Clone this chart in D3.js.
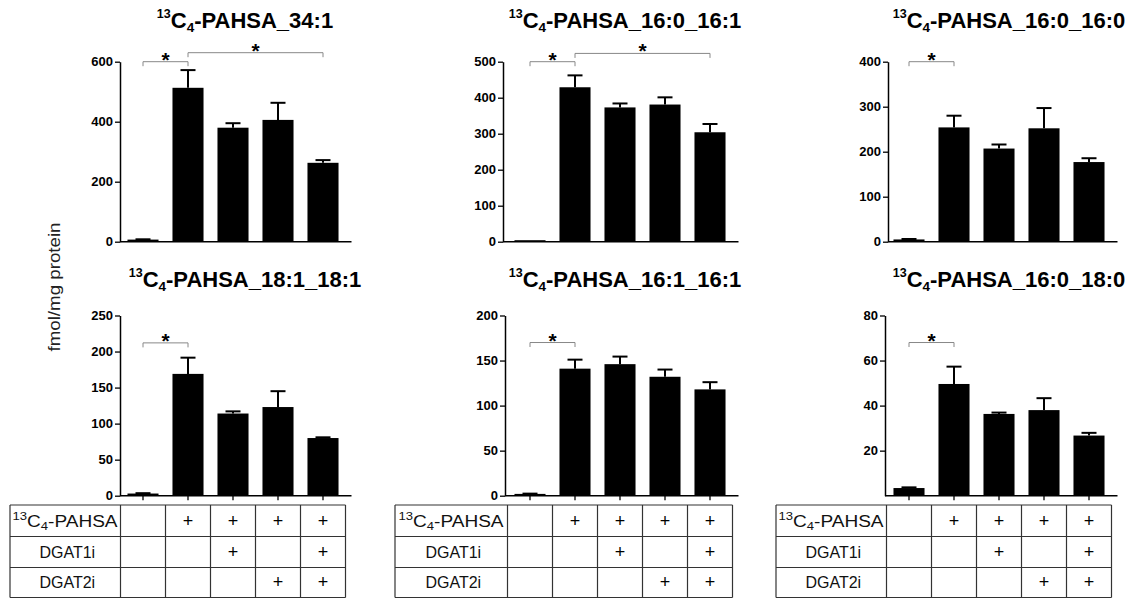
<!DOCTYPE html>
<html>
<head>
<meta charset="utf-8">
<script src="https://cdn.jsdelivr.net/npm/d3@7"></script>
<style>
  body { margin: 0; background: #fff; }
  svg { display: block; font-family: "Liberation Sans", Arial, Helvetica, sans-serif; }
</style>
</head>
<body>
<svg id="chart" width="1135" height="598"></svg>
<script>
// Treatment groups (x categories)
const groups = ["vehicle", "PAHSA", "PAHSA+DGAT1i", "PAHSA+DGAT2i", "PAHSA+DGAT1i+DGAT2i"];

// Lipid species shown in each panel
const species = ["34:1", "16:0_16:1", "16:0_16:0", "18:1_18:1", "16:1_16:1", "16:0_18:0"];

// Mean (fmol/mg protein) and SEM per group
const mean_34_1      = [7, 513, 380, 406, 263];
const sem_34_1       = [1, 59, 15, 57, 9];
const mean_16_0_16_1 = [1.5, 429, 373, 381, 304];
const sem_16_0_16_1  = [0, 33, 11, 20, 23];
const mean_16_0_16_0 = [5, 254, 207, 252, 177];
const sem_16_0_16_0  = [1, 26, 9, 45, 8.5];
const mean_18_1_18_1 = [3, 169, 114, 123, 80];
const sem_18_1_18_1  = [0.5, 22.5, 3, 22, 1];
const mean_16_1_16_1 = [2, 141, 146, 132, 118];
const sem_16_1_16_1  = [0.3, 10, 8.4, 8, 8];
const mean_16_0_18_0 = [3.4, 49.6, 36.3, 38, 26.7];
const sem_16_0_18_0  = [0.3, 7.7, 0.6, 5.3, 1.2];

// Y axis extents and tick labels
const yMax   = [600, 500, 400, 250, 200, 80];
const yTicks = [
  [0, 200, 400, 600],
  [0, 100, 200, 300, 400, 500],
  [0, 100, 200, 300, 400],
  [0, 50, 100, 150, 200, 250],
  [0, 50, 100, 150, 200],
  [20, 40, 60, 80]
];

// Significance brackets: [from group, to group, height in data units]
const brackets = [
  [[0, 1, 600], [1, 4, 630]],
  [[0, 1, 500], [1, 4, 523]],
  [[0, 1, 400]],
  [[0, 1, 212]],
  [[0, 1, 170]],
  [[0, 1, 68]]
];

// Treatment table below each column
const tableRows = ["PAHSA", "DGAT1i", "DGAT2i"];
const tableMarks = [
  [0, 1, 1, 1, 1],
  [0, 0, 1, 0, 1],
  [0, 0, 0, 1, 1]
];

const means = [mean_34_1, mean_16_0_16_1, mean_16_0_16_0, mean_18_1_18_1, mean_16_1_16_1, mean_16_0_18_0];
const sems  = [sem_34_1, sem_16_0_16_1, sem_16_0_16_0, sem_18_1_18_1, sem_16_1_16_1, sem_16_0_18_0];

// Layout
const colBandX = [120.5, 507.5, 886.5];
const colAxisX = [[120, 503, 888], [120, 505, 885]];
const rowY0    = [241.7, 495.7];
const rowYTop  = [61.7, 315.5];
const titleX   = [245, 625, 1009];
const titleY   = [27.7, 286.7];
const tableLeft = [10, 395, 776];
const tableY    = [505, 536.5, 567.5, 597.5];

const svg = d3.select("#chart");

function scaleX(col) {
  const bx = colBandX[col];
  return d3.scaleBand().domain(groups).range([bx, bx + 225])
    .paddingInner(0.31).paddingOuter(0.155);
}

// center a multi-tspan label horizontally on cx
function centerOn(sel, cx) {
  const b = sel.node().getBBox();
  sel.attr("x", cx - b.width / 2);
}

species.forEach((sp, i) => {
  const col = i % 3, row = Math.floor(i / 3);
  const x = scaleX(col);
  const y = d3.scaleLinear().domain([0, yMax[i]]).range([rowY0[row], rowYTop[row]]);
  const axisX = colAxisX[row][col];
  const g = svg.append("g");
  const bw = x.bandwidth();

  // title
  const t = g.append("text")
    .attr("x", 0).attr("y", titleY[row])
    .attr("font-weight", "bold").attr("font-size", 22).attr("fill", "#000");
  t.append("tspan").attr("font-size", 12.5).attr("dy", -9.6).text("13");
  t.append("tspan").attr("dy", 9.6).text("C");
  t.append("tspan").attr("font-size", 13.5).attr("dy", 4).text("4");
  t.append("tspan").attr("dy", -4).text("-PAHSA_" + sp);
  centerOn(t, titleX[col]);

  // y axis
  const ya = g.append("g").attr("transform", `translate(${axisX},0)`)
    .call(d3.axisLeft(y).tickValues(yTicks[i]).tickSize(5).tickSizeOuter(0).tickPadding(2));
  ya.select(".domain").attr("stroke", "#000").attr("stroke-width", 1.5);
  ya.selectAll(".tick line").attr("stroke", "#000").attr("stroke-width", 1.3);
  ya.selectAll(".tick text").attr("font-family", "'Liberation Sans', Arial, sans-serif")
    .attr("font-weight", "bold").attr("font-size", 13).attr("fill", "#000");

  // x axis line
  g.append("line")
    .attr("x1", axisX).attr("x2", colBandX[col] + 231)
    .attr("y1", rowY0[row]).attr("y2", rowY0[row])
    .attr("stroke", "#000").attr("stroke-width", 1.5);

  if (row === 1) {
    const xa = g.append("g").attr("transform", `translate(0,${rowY0[row]})`)
      .call(d3.axisBottom(x).tickSize(4.5).tickFormat(""));
    xa.select(".domain").remove();
    xa.selectAll(".tick line").attr("stroke", "#000").attr("stroke-width", 1.3);
  }

  const data = groups.map((grp, k) => ({ grp, m: means[i][k], s: sems[i][k] }));

  // bars
  g.selectAll("rect.bar").data(data).join("rect")
    .attr("class", "bar")
    .attr("x", d => x(d.grp)).attr("width", bw)
    .attr("y", d => Math.min(y(d.m), rowY0[row] - 1.5))
    .attr("height", d => Math.max(1.5, rowY0[row] - y(d.m)))
    .attr("fill", "#000");

  // error bars (upper)
  const eb = g.selectAll("g.err").data(data.filter(d => d.s > 0)).join("g").attr("class", "err");
  eb.append("line")
    .attr("x1", d => x(d.grp) + bw / 2).attr("x2", d => x(d.grp) + bw / 2)
    .attr("y1", d => y(d.m)).attr("y2", d => y(d.m + d.s))
    .attr("stroke", "#000").attr("stroke-width", 2);
  eb.append("line")
    .attr("x1", d => x(d.grp) + bw / 2 - 7.5).attr("x2", d => x(d.grp) + bw / 2 + 7.5)
    .attr("y1", d => y(d.m + d.s)).attr("y2", d => y(d.m + d.s))
    .attr("stroke", "#000").attr("stroke-width", 2);

  // significance brackets
  brackets[i].forEach(([a, b, h]) => {
    const x1 = x(groups[a]) + bw / 2, x2 = x(groups[b]) + bw / 2, yy = y(h);
    g.append("path")
      .attr("d", `M${x1},${yy + 4.5}V${yy}H${x2}V${yy + 4.5}`)
      .attr("fill", "none").attr("stroke", "#888").attr("stroke-width", 1);
    g.append("text")
      .attr("x", (x1 + x2) / 2).attr("y", yy + 5)
      .attr("text-anchor", "middle").attr("font-weight", "bold").attr("font-size", 21)
      .attr("fill", "#000").text("*");
  });
});

// treatment tables
[0, 1, 2].forEach(col => {
  const x = scaleX(col);
  const step = x.step();
  const bounds = groups.map(grp => x(grp) - step * x.paddingInner() / 2);
  bounds.push(bounds[bounds.length - 1] + step);
  const left = tableLeft[col], right = bounds[bounds.length - 1];
  const g = svg.append("g");

  tableY.forEach(yy => {
    g.append("line").attr("x1", left).attr("x2", right).attr("y1", yy).attr("y2", yy)
      .attr("stroke", "#333").attr("stroke-width", 1.2);
  });
  [left].concat(bounds).forEach(xx => {
    g.append("line").attr("x1", xx).attr("x2", xx)
      .attr("y1", tableY[0]).attr("y2", tableY[3])
      .attr("stroke", "#333").attr("stroke-width", 1.2);
  });

  const labelX = (left + bounds[0]) / 2;
  tableRows.forEach((name, r) => {
    const cy = (tableY[r] + tableY[r + 1]) / 2 + 5.8;
    if (r === 0) {
      const holder = g.append("g");
      const t = holder.append("text")
        .attr("x", 0).attr("y", 0)
        .attr("font-size", 16).attr("fill", "#111");
      t.append("tspan").attr("font-size", 11).attr("dy", -6.5).text("13");
      t.append("tspan").attr("dy", 6.5).text("C");
      t.append("tspan").attr("font-size", 11).attr("dy", 3.5).text("4");
      t.append("tspan").attr("dy", -3.5).text("-" + name);
      const w = t.node().getBBox().width;
      const k = 1.19;
      holder.attr("transform", `translate(${labelX - w * k / 2},${cy}) scale(${k},1)`);
    } else {
      g.append("text").attr("x", labelX + 2).attr("y", cy)
        .attr("text-anchor", "middle").attr("font-size", 16).attr("fill", "#111").text(name);
    }
    groups.forEach((grp, k) => {
      if (tableMarks[r][k]) {
        g.append("text").attr("x", x(grp) + x.bandwidth() / 2).attr("y", cy)
          .attr("text-anchor", "middle").attr("font-size", 18).attr("fill", "#000").text("+");
      }
    });
  });
});

// shared y axis label
svg.append("text")
  .attr("transform", "translate(60,287) rotate(-90) scale(1.17,1)")
  .attr("text-anchor", "middle").attr("font-size", 16).attr("fill", "#222")
  .text("fmol/mg protein");
</script>
</body>
</html>
